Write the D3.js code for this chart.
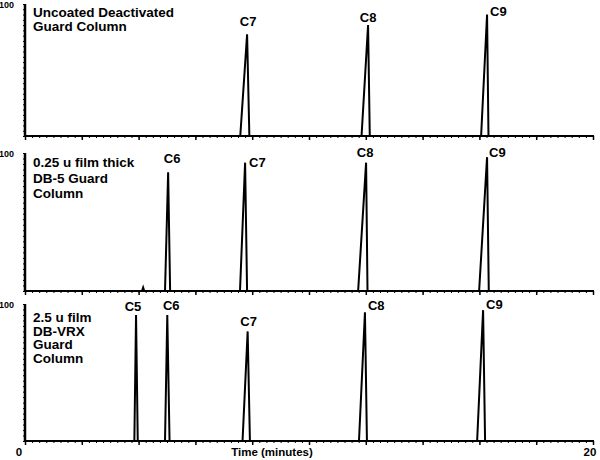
<!DOCTYPE html>
<html>
<head>
<meta charset="utf-8">
<script src="https://cdn.jsdelivr.net/npm/d3@7"></script>
<style>
  html, body { margin: 0; padding: 0; background: #fff; }
  svg { display: block; font-family: "Liberation Sans", Arial, sans-serif; }
</style>
</head>
<body>
<svg id="chart" width="600" height="460"></svg>
<script>
// ---- Data ----
const panelTitles = [
  ["Uncoated Deactivated", "Guard Column"],
  ["0.25 u film thick", "DB-5 Guard", "Column"],
  ["2.5 u film", "DB-VRX", "Guard", "Column"]
];
// Panel 1
const p1Names   = ["C7", "C8", "C9"];
const p1Start   = [7.58, 11.85, 16.06];
const p1Apex    = [7.82, 12.08, 16.27];
const p1End     = [7.90, 12.14, 16.32];
const p1Height  = [77, 84, 92];
// Panel 2
const p2Names   = ["C6", "C7", "C8", "C9", ""];
const p2Start   = [4.93, 7.57, 11.73, 15.99, 4.12];
const p2Apex    = [5.04, 7.75, 12.01, 16.27, 4.16];
const p2End     = [5.11, 7.82, 12.06, 16.33, 4.20];
const p2Height  = [86, 93, 93, 97, 2.5];
// Panel 3
const p3Names   = ["C5", "C6", "C7", "C8", "C9"];
const p3Start   = [3.85, 4.93, 7.66, 11.76, 15.92];
const p3Apex    = [3.91, 5.01, 7.84, 11.97, 16.13];
const p3End     = [3.97, 5.09, 7.92, 12.04, 16.20];
const p3Height  = [92, 92, 80, 94, 95.5];

const xDomain = [0, 20];
const xTickLabels = ["0", "20"];
const yTopLabel = "100";
const xTitle = "Time (minutes)";

// ---- Layout ----
const svg = d3.select("#chart");
const left = 25, right = 593;
const panels = [
  {top: 4,   bottom: 136, names: p1Names, start: p1Start, apex: p1Apex, end: p1End, h: p1Height,
   lab: [[1,-13,"middle"],[0,-8,"middle"],[3,-3,"start"]], titleY: 17, lh: 14},
  {top: 153, bottom: 291, names: p2Names, start: p2Start, apex: p2Apex, end: p2End, h: p2Height,
   lab: [[4,-14,"middle"],[4,0,"start"],[-1,-10,"middle"],[2,-5,"start"],[0,0,"middle"]], titleY: 167, lh: 15.5},
  {top: 304, bottom: 441, names: p3Names, start: p3Start, apex: p3Apex, end: p3End, h: p3Height,
   lab: [[-3,-8,"middle"],[4,-9,"middle"],[1,-10,"middle"],[3,-7,"start"],[3,-6,"start"]], titleY: 322, lh: 13.7}
];

const x = d3.scaleLinear().domain(xDomain).range([left, right]);
const minorX = d3.range(0, 20.001, 0.25);
const majorX = d3.range(0, 20.001, 2);
const yTicks = d3.range(0, 100.001, 4);

panels.forEach((p, pi) => {
  const y = d3.scaleLinear().domain([0, 100]).range([p.bottom, p.top]);
  const g = svg.append("g");

  // x axis minor ticks
  g.append("g")
    .attr("transform", `translate(0,${p.bottom})`)
    .call(d3.axisBottom(x).tickValues(minorX).tickSize(2).tickFormat(""))
    .call(s => s.select(".domain").remove())
    .call(s => s.selectAll("line").attr("stroke", "#000").attr("stroke-width", 1));
  g.append("g")
    .attr("transform", `translate(0,${p.bottom})`)
    .call(d3.axisBottom(x).tickValues(majorX).tickSize(4).tickFormat(""))
    .call(s => s.select(".domain").remove())
    .call(s => s.selectAll("line").attr("stroke", "#000").attr("stroke-width", 1.5));
  // baseline
  g.append("line")
    .attr("x1", x(0) - 1).attr("x2", right + 1)
    .attr("y1", p.bottom).attr("y2", p.bottom)
    .attr("stroke", "#000").attr("stroke-width", 2);

  // y axis
  g.append("g")
    .attr("transform", `translate(${left},0)`)
    .call(d3.axisLeft(y).tickValues(yTicks).tickSize(2).tickFormat(""))
    .call(s => s.select(".domain").remove())
    .call(s => s.selectAll("line").attr("stroke", "#000").attr("stroke-width", 1));
  g.append("line")
    .attr("x1", left).attr("x2", left)
    .attr("y1", p.top).attr("y2", p.bottom)
    .attr("stroke", "#000").attr("stroke-width", 2.5);
  g.append("text")
    .attr("x", 14).attr("y", p.top + 1)
    .attr("text-anchor", "end").attr("dominant-baseline", "central")
    .attr("font-size", 9).attr("font-weight", "bold")
    .text(yTopLabel);

  // title lines
  g.append("text")
    .attr("font-size", 13.5).attr("font-weight", "bold")
    .selectAll("tspan").data(panelTitles[pi]).join("tspan")
    .attr("x", 33).attr("y", (d, i) => p.titleY + i * p.lh)
    .text(d => d);

  // peaks
  const line = d3.line().x(d => x(d[0])).y(d => y(d[1]));
  p.names.forEach((n, i) => {
    const pts = [[p.start[i], 0], [p.apex[i], p.h[i]], [p.end[i], 0]];
    g.append("path").attr("d", line(pts))
      .attr("fill", "none").attr("stroke", "#000").attr("stroke-width", 2)
      .attr("stroke-linejoin", "miter");
    if (n) {
      const o = p.lab[i];
      g.append("text")
        .attr("x", x(p.apex[i]) + o[0]).attr("y", y(p.h[i]) + o[1])
        .attr("text-anchor", o[2]).attr("dominant-baseline", "central")
        .attr("font-size", 13).attr("font-weight", "bold")
        .text(n);
    }
  });
});

// bottom labels
svg.append("text").attr("x", 19).attr("y", 452)
  .attr("text-anchor", "middle").attr("dominant-baseline", "central")
  .attr("font-size", 11.5).attr("font-weight", "bold").text(xTickLabels[0]);
svg.append("text").attr("x", 590).attr("y", 452)
  .attr("text-anchor", "middle").attr("dominant-baseline", "central")
  .attr("font-size", 11.5).attr("font-weight", "bold").text(xTickLabels[1]);
svg.append("text").attr("x", 272).attr("y", 452)
  .attr("text-anchor", "middle").attr("dominant-baseline", "central")
  .attr("font-size", 11.5).attr("font-weight", "bold").text(xTitle);
</script>
</body>
</html>
